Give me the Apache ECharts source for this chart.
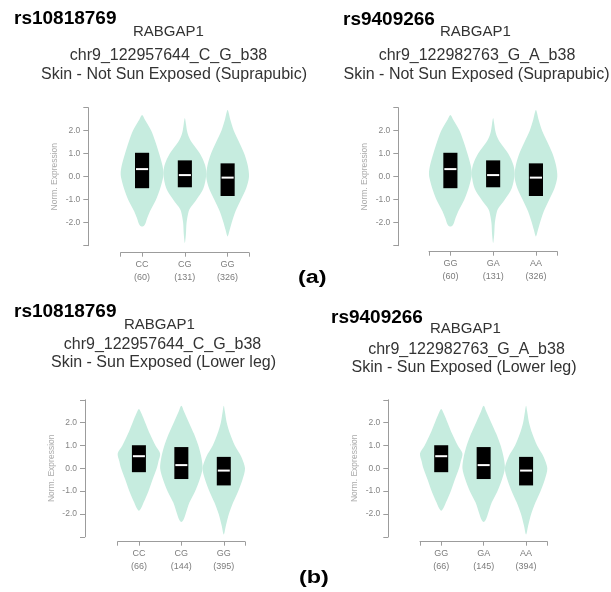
<!DOCTYPE html>
<html><head><meta charset="utf-8">
<script src="https://cdn.jsdelivr.net/npm/echarts@6/dist/echarts.min.js"></script>
<style>html,body{margin:0;padding:0;background:#fff}#c{width:611px;height:592px}</style>
</head><body><div id="c"></div>
<script>
// ---------- data ----------
const catsLeft = ['CC', 'CG', 'GG'];
const catsRight = ['GG', 'GA', 'AA'];
const countsA1 = [60, 131, 326];
const countsA2 = [60, 131, 326];
const countsB1 = [66, 144, 395];
const countsB2 = [66, 145, 394];
const yTickValues = [-2, -1, 0, 1, 2];

// violin outlines: [expression value, relative half-width]
const violinA0 = [[2.68,0],[2.5,0.12],[2.0,0.43],[1.5,0.63],[1.0,0.8],[0.5,0.95],[0.2,1.0],[0.0,0.99],[-0.5,0.85],[-1.0,0.65],[-1.5,0.37],[-1.8,0.24],[-2.0,0.17],[-2.12,0.1],[-2.17,0]];
const violinA1 = [[2.55,0],[2.3,0.05],[2.0,0.1],[1.75,0.18],[1.5,0.32],[1.0,0.71],[0.5,0.95],[0.1,1.0],[-0.5,0.87],[-1.0,0.54],[-1.3,0.3],[-1.5,0.18],[-2.0,0.08],[-2.5,0.05],[-2.88,0]];
const violinA2 = [[2.9,0],[2.5,0.12],[2.0,0.29],[1.5,0.54],[1.0,0.78],[0.5,0.94],[0.0,1.0],[-0.5,0.87],[-1.0,0.62],[-1.5,0.37],[-2.0,0.19],[-2.3,0.1],[-2.6,0]];
const violinB0 = [[2.6,0],[2.4,0.12],[2.0,0.3],[1.5,0.52],[1.0,0.78],[0.65,1.0],[0.3,0.92],[0.0,0.84],[-0.5,0.64],[-1.0,0.45],[-1.5,0.22],[-1.75,0.1],[-1.86,0]];
const violinB1 = [[2.74,0],[2.5,0.12],[2.0,0.36],[1.5,0.6],[1.0,0.8],[0.5,0.94],[0.0,1.0],[-0.5,0.86],[-1.0,0.65],[-1.5,0.38],[-2.0,0.2],[-2.25,0.1],[-2.35,0]];
const violinB2 = [[2.74,0],[2.5,0.05],[2.0,0.14],[1.5,0.3],[1.0,0.52],[0.5,0.83],[0.0,1.0],[-0.5,0.88],[-1.0,0.68],[-1.5,0.44],[-2.0,0.24],[-2.5,0.1],[-2.9,0]];

// boxes: [q1, median, q3]
const boxesA = [[-0.5, 0.33, 1.04], [-0.46, 0.07, 0.71], [-0.84, -0.04, 0.58]];
const boxesB = [[-0.17, 0.53, 1.01], [-0.47, 0.14, 0.93], [-0.75, -0.1, 0.5]];

const snpLeft = 'rs10818769';
const snpRight = 'rs9409266';
const gene = 'RABGAP1';
const variantLeft = 'chr9_122957644_C_G_b38';
const variantRight = 'chr9_122982763_G_A_b38';
const tissueA = 'Skin - Not Sun Exposed (Suprapubic)';
const tissueB = 'Skin - Sun Exposed (Lower leg)';
const panelLabels = ['(a)', '(b)'];

// ---------- layout ----------
const panels = [
  {cats: catsLeft, counts: countsA1, violins: [violinA0, violinA1, violinA2], boxes: boxesA,
   grid: {left: 120.7, top: 107.7, width: 128.3, height: 138}, yOff: 32.4, xOff: 7},
  {cats: catsRight, counts: countsA2, violins: [violinA0, violinA1, violinA2], boxes: boxesA,
   grid: {left: 429, top: 107.7, width: 128.3, height: 138}, yOff: 30.7, xOff: 6},
  {cats: catsLeft, counts: countsB1, violins: [violinB0, violinB1, violinB2], boxes: boxesB,
   grid: {left: 117.7, top: 399.8, width: 127.3, height: 137}, yOff: 32.7, xOff: 4.9},
  {cats: catsRight, counts: countsB2, violins: [violinB0, violinB1, violinB2], boxes: boxesB,
   grid: {left: 420, top: 399.8, width: 127.3, height: 137}, yOff: 31.7, xOff: 4.9}
];

const AX = '#9c9c9c';
const grids = [], xAxes = [], yAxes = [], series = [];
panels.forEach((p, k) => {
  grids.push(Object.assign({containLabel: false}, p.grid));
  xAxes.push({
    type: 'category', gridIndex: k, position: 'bottom', offset: p.xOff,
    data: p.cats.map((c, i) => c + '\n(' + p.counts[i] + ')'),
    boundaryGap: true,
    axisLine: {show: true, onZero: false, lineStyle: {color: AX, width: 1}},
    axisTick: {show: true, alignWithLabel: true, length: 4, lineStyle: {color: AX}},
    axisLabel: {color: '#7c7c7c', fontSize: 9, lineHeight: 13, margin: 5, fontFamily: 'Arial, "Liberation Sans"'},
    splitLine: {show: false}
  });
  xAxes.push({
    type: 'value', gridIndex: k, position: 'bottom', offset: p.xOff,
    min: 0, max: 1, interval: 1,
    axisLine: {show: false, onZero: false},
    axisTick: {show: true, length: 4, lineStyle: {color: AX}},
    axisLabel: {show: false}, splitLine: {show: false}
  });
  yAxes.push({
    type: 'value', gridIndex: k, position: 'left', offset: p.yOff,
    min: -3, max: 3, interval: 1,
    axisLine: {show: true, onZero: false, lineStyle: {color: AX, width: 1}},
    axisTick: {show: true, length: 5, lineStyle: {color: AX}},
    axisLabel: {
      color: '#858585', fontSize: 8.5, margin: 8, fontFamily: 'Arial, "Liberation Sans"',
      formatter: v => (yTickValues.indexOf(v) >= 0 ? v.toFixed(1) : '')
    },
    splitLine: {show: false},
    name: 'Norm. Expression', nameLocation: 'middle', nameGap: 29,
    nameTextStyle: {color: '#aaaaaa', fontSize: 8.5, fontFamily: 'Arial, "Liberation Sans"'}
  });
  const violins = p.violins;
  series.push({
    type: 'custom', xAxisIndex: 2 * k, yAxisIndex: k,
    data: p.boxes.map((b, i) => [i, b[0], b[1], b[2]]),
    renderItem: (params, api) => {
      const i = api.value(0);
      const band = api.size([1, 0])[0];
      const cx = api.coord([i, 0])[0];
      const prof = violins[i];
      const hw = band * 0.5;
      const right = prof.map(q => [cx + q[1] * hw, api.coord([i, q[0]])[1]]);
      const left = prof.slice(1, prof.length - 1).reverse().map(q => [cx - q[1] * hw, api.coord([i, q[0]])[1]]);
      const pts = right.concat(left);
      const y1 = api.coord([i, api.value(1)])[1];
      const ym = api.coord([i, api.value(2)])[1];
      const y3 = api.coord([i, api.value(3)])[1];
      const bw = band * 0.33;
      return {type: 'group', children: [
        {type: 'polygon', shape: {points: pts, smooth: 0.3}, style: {fill: '#c6ecdf'}},
        {type: 'rect', shape: {x: cx - bw / 2, y: y3, width: bw, height: y1 - y3}, style: {fill: '#000'}},
        {type: 'line', shape: {x1: cx - bw / 2 + 1, y1: ym, x2: cx + bw / 2 - 1, y2: ym}, style: {stroke: '#fff', lineWidth: 2}}
      ]};
    }
  });
});

const FF = 'Arial, "Liberation Sans", sans-serif';
function txt(text, x, y, size, opts) {
  return {type: 'text', x: x, y: y, scaleX: (opts && opts.sx) || 1,
    style: {text: text, fontSize: size, fontWeight: (opts && opts.bold) ? 'bold' : 'normal', fontFamily: FF,
      fill: (opts && opts.fill) || '#333', align: (opts && opts.align) || 'center', verticalAlign: 'middle'}};
}
const graphic = [
  txt(snpLeft, 14, 19, 19, {bold: true, align: 'left', fill: '#000'}),
  txt(gene, 133, 32, 15, {align: 'left'}),
  txt(variantLeft, 168.5, 56, 16),
  txt(tissueA, 174, 74.5, 16),
  txt(snpRight, 343, 20, 19, {bold: true, align: 'left', fill: '#000'}),
  txt(gene, 440, 32, 15, {align: 'left'}),
  txt(variantRight, 477, 56, 16),
  txt(tissueA, 476.5, 74.5, 16),
  txt(snpLeft, 14, 312, 19, {bold: true, align: 'left', fill: '#000'}),
  txt(gene, 124, 324.5, 15, {align: 'left'}),
  txt(variantLeft, 162.5, 345, 16),
  txt(tissueB, 163.5, 362.5, 16),
  txt(snpRight, 331, 318, 19, {bold: true, align: 'left', fill: '#000'}),
  txt(gene, 430, 329, 15, {align: 'left'}),
  txt(variantRight, 466.5, 350, 16),
  txt(tissueB, 464, 368, 16),
  txt(panelLabels[0], 298, 278, 18, {bold: true, align: 'left', fill: '#000', sx: 1.3}),
  txt(panelLabels[1], 299, 578, 18, {bold: true, align: 'left', fill: '#000', sx: 1.3})
];

const chart = echarts.init(document.getElementById('c'), null, {renderer: 'canvas'});
chart.setOption({
  backgroundColor: '#fff',
  animation: false,
  grid: grids, xAxis: xAxes, yAxis: yAxes, series: series, graphic: graphic
});
</script></body></html>
